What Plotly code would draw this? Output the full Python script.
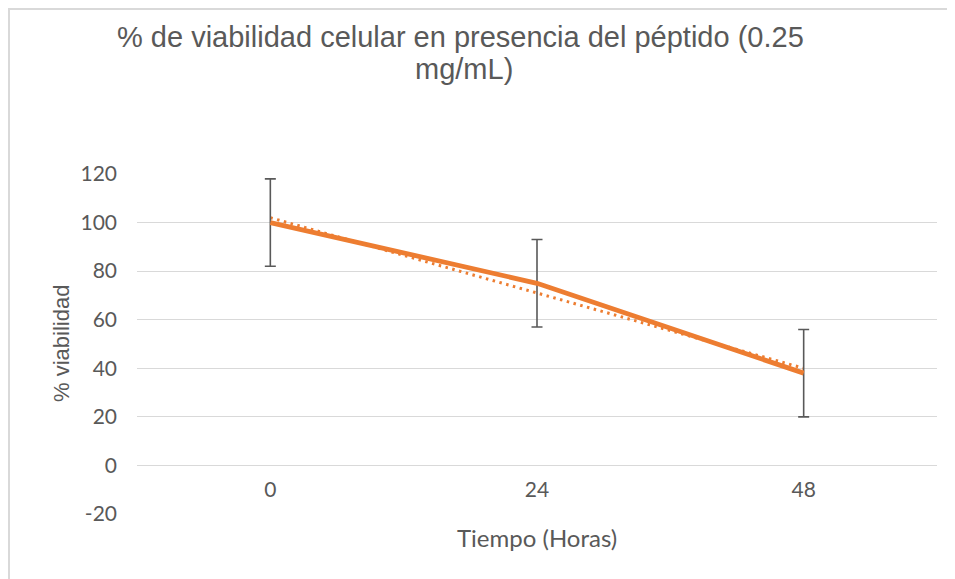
import plotly.graph_objects as go

# ---- data ----
categories = ["0", "24", "48"]
viability = [100, 75, 38]
error_sd = [18, 18, 18]
trend_values = [102, 71, 40]  # linear trendline
y_ticks = [-20, 0, 20, 40, 60, 80, 100, 120]
y_tick_labels = ["-20", "0", "20", "40", "60", "80", "100", "120"]

title_line1 = "% de viabilidad celular en presencia del péptido (0.25"
title_line2 = "mg/mL)"
x_title = "Tiempo (Horas)"
y_title = "% viabilidad"

# ---- layout geometry (page pixels; page body has an 8px margin) ----
OFF = 8
W, H = 955 - OFF, 579 - OFF
PL, PR, PT, PB = 137, 937, 174, 514  # plot area in page pixels
L = PL - OFF
T = PT - OFF
R = W - (PR - OFF)
B = H - (PB - OFF)
pw, ph = PR - PL, PB - PT

def px_x(x):
    return (x - PL) / pw

def px_y(y):
    return (PB - y) / ph

ORANGE = "#ED7D31"
GRAY_TXT = "#595959"
GRID = "#D9D9D9"
ARIAL = "Liberation Sans, Arial, sans-serif"
CALIBRI = "Lato, Carlito, Calibri, sans-serif"

fig = go.Figure()

fig.add_trace(go.Scatter(
    x=categories, y=trend_values, mode="lines",
    line=dict(color=ORANGE, width=3, dash="2.5px,4.5px"),
    hoverinfo="skip", showlegend=False,
))

fig.add_trace(go.Scatter(
    x=categories, y=viability, mode="lines",
    line=dict(color=ORANGE, width=4.8),
    error_y=dict(type="data", array=error_sd, visible=True,
                 color=GRAY_TXT, thickness=1.6, width=5.5),
    showlegend=False,
))

fig.update_layout(
    width=W, height=H,
    margin=dict(l=L, r=R, t=T, b=B, autoexpand=False),
    paper_bgcolor="white", plot_bgcolor="white",
    font=dict(family=CALIBRI, color=GRAY_TXT, size=21),
    showlegend=False,
    xaxis=dict(
        type="category", range=[-0.5, 2.5],
        showgrid=False, showline=False, zeroline=False, ticks="",
        anchor="free", position=20 / 140,
        ticklabelstandoff=10,
        tickfont=dict(family=CALIBRI, size=21, color=GRAY_TXT),
    ),
    yaxis=dict(
        range=[-20, 120], tickvals=y_ticks, ticktext=y_tick_labels,
        showgrid=True, gridcolor=GRID, gridwidth=1.3,
        zeroline=True, zerolinecolor=GRID, zerolinewidth=1.3,
        showline=False, ticks="",
        ticklabelstandoff=19,
        tickfont=dict(family=CALIBRI, size=21, color=GRAY_TXT),
    ),
    annotations=[
        dict(text=title_line1, xref="paper", yref="paper",
             x=px_x(460), y=px_y(37), xanchor="center", yanchor="middle",
             showarrow=False, font=dict(family=ARIAL, size=29, color=GRAY_TXT)),
        dict(text=title_line2, xref="paper", yref="paper",
             x=px_x(464), y=px_y(69), xanchor="center", yanchor="middle",
             showarrow=False, font=dict(family=ARIAL, size=29, color=GRAY_TXT)),
        dict(text=x_title, xref="paper", yref="paper",
             x=px_x(537), y=px_y(537), xanchor="center", yanchor="middle",
             showarrow=False, font=dict(family=CALIBRI, size=24, color=GRAY_TXT)),
        dict(text=y_title, xref="paper", yref="paper", textangle=-90,
             x=px_x(61), y=px_y(344), xanchor="center", yanchor="middle",
             showarrow=False, font=dict(family=ARIAL, size=22, color=GRAY_TXT)),
    ],
    shapes=[
        dict(type="line", xref="paper", yref="paper",
             x0=px_x(9), x1=px_x(960), y0=px_y(9), y1=px_y(9),
             line=dict(color=GRID, width=2)),
        dict(type="line", xref="paper", yref="paper",
             x0=px_x(9), x1=px_x(9), y0=px_y(8), y1=px_y(590),
             line=dict(color=GRID, width=2)),
    ],
)

fig.write_html("out.html")
